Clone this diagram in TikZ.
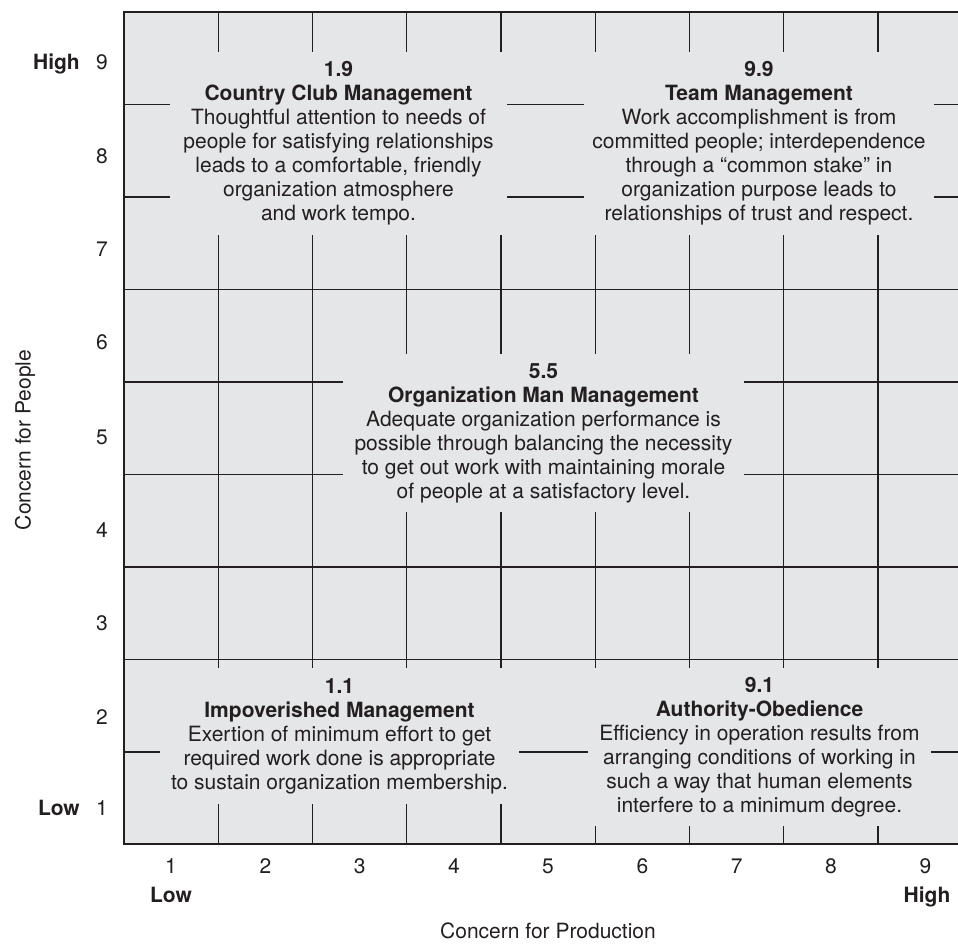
\documentclass[tikz,border=0pt]{standalone}
\usepackage{fontspec}
\setmainfont{TeX Gyre Heros}
\usepackage{tikz}
\usetikzlibrary{positioning}
\definecolor{gridbg}{RGB}{229, 230, 232}
\definecolor{inkdark}{RGB}{35, 31, 32}

\begin{document}
\begin{tikzpicture}[
    x=1pt, y=-1pt,
    panel/.style={rectangle, fill=gridbg, inner sep=0pt, align=center, text=inkdark, font=\fontsize{21}{24}\selectfont},
    num/.style={rectangle, inner sep=0pt, text=inkdark, text height=15pt, text depth=0pt, font=\fontsize{21}{24}\selectfont},
    lvl/.style={num, font=\fontsize{21}{24}\selectfont\bfseries},
    axistitle/.style={rectangle, inner sep=0pt, text=inkdark, font=\fontsize{21}{24}\selectfont},
    gridline/.style={draw=inkdark, line width=1.3pt},
    frame/.style={draw=inkdark, line width=2.6pt}
]
    \useasboundingbox (0,0) rectangle (958,943);

    % Grid background
    \fill[gridbg] (124,12) rectangle (958,844);

    % Grid lines
    \draw[gridline] (218.2,12) -- (218.2,844);
    \draw[gridline] (312.5,12) -- (312.5,844);
    \draw[gridline] (406.7,12) -- (406.7,844);
    \draw[gridline] (501,12) -- (501,844);
    \draw[gridline] (595.2,12) -- (595.2,844);
    \draw[gridline] (689.5,12) -- (689.5,844);
    \draw[gridline] (783.7,12) -- (783.7,844);
    \draw[gridline] (878,12) -- (878,844);

    \draw[gridline] (124,104.5) -- (958,104.5);
    \draw[gridline] (124,197) -- (958,197);
    \draw[gridline] (124,289.5) -- (958,289.5);
    \draw[gridline] (124,382) -- (958,382);
    \draw[gridline] (124,474.5) -- (958,474.5);
    \draw[gridline] (124,567) -- (958,567);
    \draw[gridline] (124,659.5) -- (958,659.5);
    \draw[gridline] (124,752) -- (958,752);

    % Frame
    \draw[frame] (958,12) -- (124,12) -- (124,844) -- (958,844);

    % Management styles
    \node[panel, minimum width=337pt, minimum height=183pt] (cc19) at (338.5,143.5)
        {{\bfseries 1.9}\\{\bfseries Country Club Management}\\Thoughtful attention to needs of\\people for satisfying relationships\\leads to a comfortable, friendly\\organization atmosphere\\and work tempo.};
    \node[panel, minimum width=350pt, minimum height=183pt] (team99) at (759,143.5)
        {{\bfseries 9.9}\\{\bfseries Team Management}\\Work accomplishment is from\\committed people; interdependence\\through a “common stake” in\\organization purpose leads to\\relationships of trust and respect.};
    \node[panel, minimum width=401pt, minimum height=158pt] (orgman55) at (543.5,433)
        {{\bfseries 5.5}\\{\bfseries Organization Man Management}\\Adequate organization performance is\\possible through balancing the necessity\\to get out work with maintaining morale\\of people at a satisfactory level.};
    \node[panel, minimum width=359pt, minimum height=136pt] (impov11) at (339.5,736)
        {{\bfseries 1.1}\\{\bfseries Impoverished Management}\\Exertion of minimum effort to get\\required work done is appropriate\\to sustain organization membership.};
    \node[panel, minimum width=343pt, minimum height=158pt] (auth91) at (759.5,747)
        {{\bfseries 9.1}\\{\bfseries Authority-Obedience}\\Efficiency in operation results from\\arranging conditions of working in\\such a way that human elements\\interfere to a minimum degree.};

    % Concern for People scale
    \node[num] (pp9) at (102,62) {9};
    \node[num] (pp8) at (102,155.5) {8};
    \node[num] (pp7) at (102,249) {7};
    \node[num] (pp6) at (102,342) {6};
    \node[num] (pp5) at (102,437) {5};
    \node[num] (pp4) at (102,530) {4};
    \node[num] (pp3) at (102,623) {3};
    \node[num] (pp2) at (102,716.5) {2};
    \node[num] (pp1) at (102,808) {1};
    \node[lvl, anchor=east] (pphigh) at (80,62) {High};
    \node[lvl, anchor=east] (pplow) at (80,808) {Low};

    % Concern for Production scale
    \node[num] (px1) at (171,866) {1};
    \node[num] (px2) at (265.4,866) {2};
    \node[num] (px3) at (359.6,866) {3};
    \node[num] (px4) at (453.9,866) {4};
    \node[num] (px5) at (548,866) {5};
    \node[num] (px6) at (642.4,866) {6};
    \node[num] (px7) at (736.6,866) {7};
    \node[num] (px8) at (830.9,866) {8};
    \node[num] (px9) at (925.5,866) {9};
    \node[lvl] (pxlow) at (171,895) {Low};
    \node[lvl] (pxhigh) at (927,895) {High};

    % Axis titles
    \node[axistitle, rotate=90] (peopleaxis) at (25,440) {Concern for People};
    \node[axistitle] (prodaxis) at (548,931) {Concern for Production};

\end{tikzpicture}
\end{document}
